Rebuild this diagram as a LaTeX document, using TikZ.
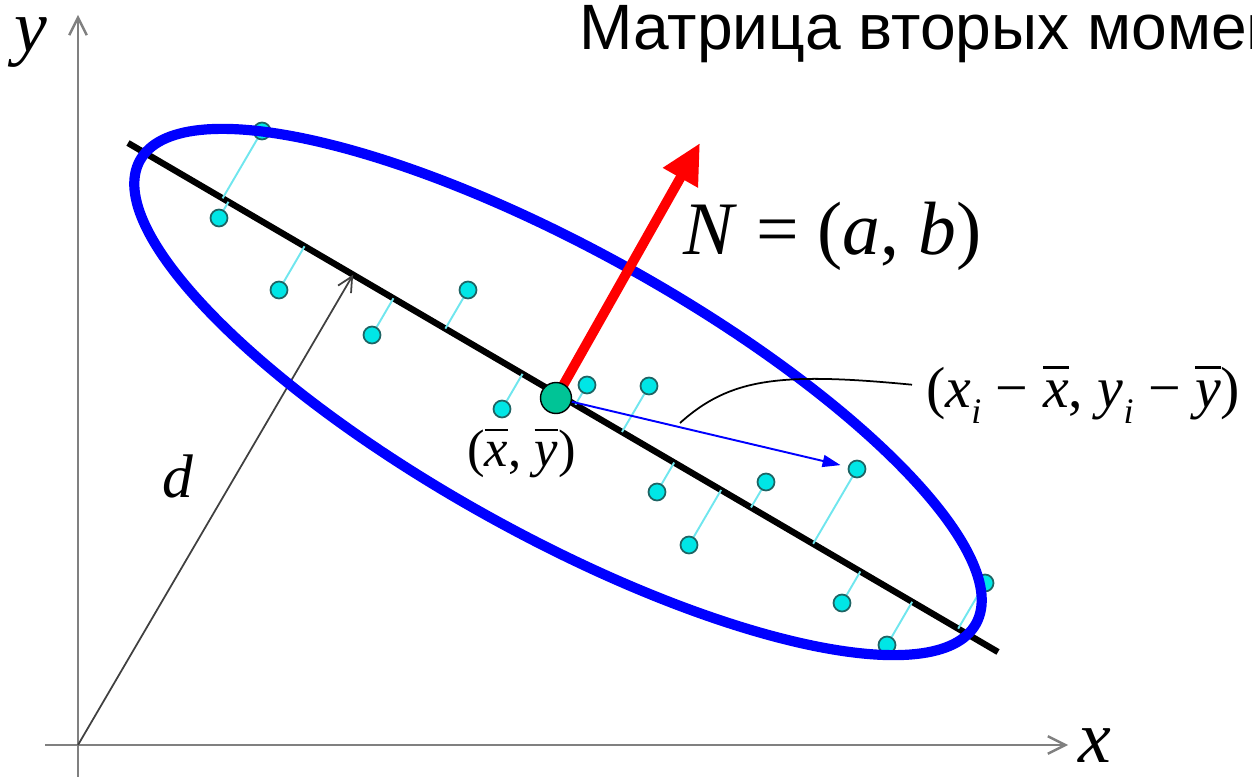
\documentclass[tikz,border=0pt]{standalone}
\usepackage{graphicx}
\usepackage{fontspec}
\setmainfont{Liberation Serif}
\newfontfamily\titlefont{Liberation Sans}
\usetikzlibrary{arrows.meta, calc}
\definecolor{cblue}{HTML}{0000FF}
\definecolor{cred}{HTML}{FF0000}
\definecolor{cgreen}{HTML}{00C496}
\definecolor{ccyan}{HTML}{00E6E6}
\definecolor{cteal}{HTML}{1E6464}
\definecolor{cproj}{HTML}{70E6EE}
\definecolor{cgrey}{HTML}{808080}
\newcommand{\vi}[1]{\textit{#1}}
\newcommand{\ob}[1]{\leavevmode\vbox{\hrule height 0.045em\kern0.2em\hbox{\vi{#1}}}}
\newcommand{\sub}[1]{\raisebox{-0.28em}{\scalebox{0.62}{\vi{#1}}}}
\tikzset{
  axis/.style={draw=cgrey, line width=1.4pt, -{Straight Barb[length=3.5mm, width=3.5mm]}},
  dist/.style={draw=black!75, line width=1pt, -{Straight Barb[length=3mm, width=3mm]}},
  fitline/.style={draw=black, line width=3.6pt},
  proj/.style={draw=cproj, line width=1.1pt},
  sample/.style={circle, draw=cteal, fill=ccyan, line width=1pt, minimum size=0.34cm, inner sep=0pt},
  mean/.style={circle, draw=black, fill=cgreen, line width=0.8pt, minimum size=0.62cm, inner sep=0pt},
  ring/.style={draw=cblue, line width=5.8pt},
  normal/.style={draw=cred, line width=5.6pt, -{Triangle[length=8mm, width=7.5mm]}},
  resid/.style={draw=cblue, line width=1.1pt, shorten >=1.5mm, -{Triangle[length=3.6mm, width=2.4mm]}},
  lbl/.style={inner sep=0pt, anchor=base, font=\fontsize{#1}{#1}\selectfont},
  lbl/.default=40,
}

\begin{document}
\begin{tikzpicture}[x=0.02cm, y=-0.02cm]
  \useasboundingbox (0,0) rectangle (1252,777);
  % axes
  \coordinate (o) at (78,745);
  \coordinate (ybot) at (78,777);
  \coordinate (ytop) at (78,15);
  \coordinate (xbot) at (45,745);
  \coordinate (xtop) at (1068,745);
  \draw[axis] (ybot) -- (ytop);
  \draw[axis] (xbot) -- (xtop);
  \node[lbl=42, text height=0.5em] (ylab) at (31,52) {\vi{y}};
  \node[lbl=42] (xlab) at (1095,762) {\vi{x}};
  % fitted line and its distance from the origin
  \coordinate (l1) at (128,143);
  \coordinate (l2) at (998,652);
  \draw[fitline] (l1) -- (l2);
  \draw[dist] (o) -- ($(l1)!(o)!(l2)$);
  \node[lbl=35] (dlab) at (178,497) {\vi{d}};
  % samples, projected onto the line
  \foreach \px/\py [count=\i] in {262/131, 219/218, 279/290, 372/335, 468/290,
      502/409, 587/385, 649/386, 657/492, 766/482, 689/545, 857/469, 842/603,
      887/645, 985/583} {
    \coordinate (p\i) at (\px,\py);
    \draw[proj] (p\i) -- ($(l1)!(p\i)!(l2)$);
    \node[sample] (s\i) at (p\i) {};
  }
  \draw[ring, rotate around={-29:(558,392)}] (558,392) ellipse [x radius=9.56cm, y radius=2.85cm];
  % mean, normal and one residual
  \coordinate (c) at (556,398);
  \coordinate (ntip) at (700,143);
  \draw[normal] (c) -- (ntip);
  \draw[resid] (c) -- (s12);
  \node[mean] (m) at (c) {};
  \node[lbl=30, anchor=base west] (mlab) at (467,466) {(\ob{x}, \ob{y})};
  \node[lbl=43, anchor=base west] (nlab) at (683,255) {\vi{N} = (\vi{a}, \vi{b})};
  \node[lbl=33, anchor=base west] (rlab) at (926,407) {(\vi{x}\sub{i} − \ob{x}, \vi{y}\sub{i} − \ob{y})};
  \coordinate (rfoot) at (680,423);
  \draw[line width=1pt] (rfoot) .. controls (730,378) and (780,372) .. ($(rlab.west)+(-14,-10)$);
  \node[anchor=base west, inner sep=0pt, font=\titlefont\fontsize{36.5}{40}\selectfont] (title) at (579,50) {Матрица вторых момен};
\end{tikzpicture}
\end{document}
